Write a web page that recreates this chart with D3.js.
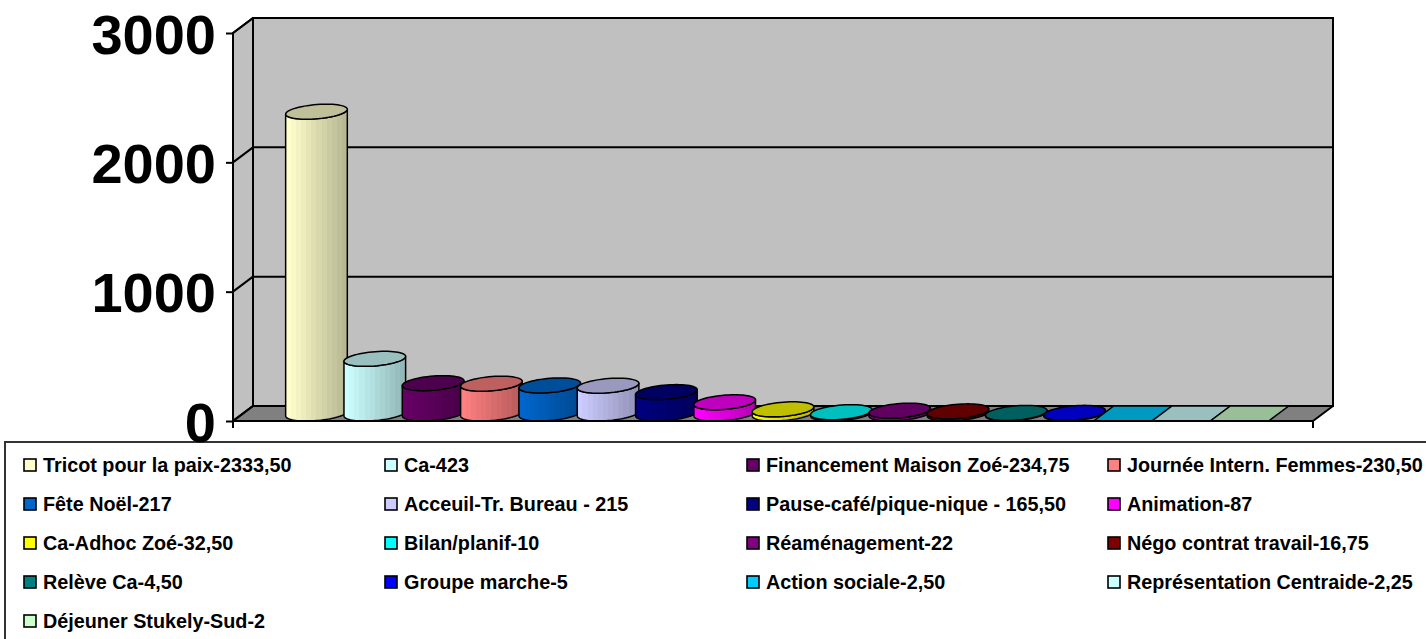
<!DOCTYPE html>
<html><head><meta charset="utf-8">
<script src="https://cdn.jsdelivr.net/npm/d3@7"></script>
<style>html,body{margin:0;padding:0;background:#fff;overflow:hidden}</style>
</head><body>
<svg id="chart" width="1426" height="639"></svg>
<script>
// ---- data ----
const labels = [
  "Tricot pour la paix-2333,50",
  "Ca-423",
  "Financement Maison Zoé-234,75",
  "Journée Intern. Femmes-230,50",
  "Fête Noël-217",
  "Acceuil-Tr. Bureau - 215",
  "Pause-café/pique-nique - 165,50",
  "Animation-87",
  "Ca-Adhoc Zoé-32,50",
  "Bilan/planif-10",
  "Réaménagement-22",
  "Négo contrat travail-16,75",
  "Relève Ca-4,50",
  "Groupe marche-5",
  "Action sociale-2,50",
  "Représentation Centraide-2,25",
  "Déjeuner Stukely-Sud-2"
];
const values = [2333.5, 423, 234.75, 230.5, 217, 215, 165.5, 87, 32.5, 10, 22, 16.75, 4.5, 5, 2.5, 2.25, 2];
const colors = ["#FFFFCC","#CCFFFF","#660066","#FF8080","#0066CC","#CCCCFF","#000080","#FF00FF",
                "#FFFF00","#00FFFF","#800080","#800000","#008080","#0000FF","#00CCFF","#CCFFFF","#CCFFCC"];
const yTicks = [0, 1000, 2000, 3000];

// ---- layout ----
const svg = d3.select("#chart");
const X0 = 233, X1 = 1313, DX = 20, DY = 15;
const y = d3.scaleLinear().domain([0, 3000]).range([421, 33]);
const x = d3.scaleBand().domain(labels).range([X0, X1]).paddingInner(0).paddingOuter(0.76);
const bw = x.bandwidth(), r = bw / 2;
const y0 = y(0);
const shade = (c, f) => { const q = d3.rgb(c); return d3.rgb(q.r * f, q.g * f, q.b * f).formatHex(); };

// ---- legend box (under axis labels) ----
svg.append("rect").attr("x", 5).attr("y", 442).attr("width", 1500).attr("height", 400)
  .attr("fill", "#fff").attr("stroke", "#333").attr("stroke-width", 2);

// ---- walls ----
const wall = svg.append("g");
wall.append("rect").attr("x", X0 + DX).attr("y", y(3000) - DY)
  .attr("width", X1 - X0).attr("height", y(0) - y(3000))
  .attr("fill", "#C0C0C0").attr("stroke", "#000").attr("stroke-width", 2);
wall.append("polygon")
  .attr("points", [[X0, y0], [X0, y(3000)], [X0 + DX, y(3000) - DY], [X0 + DX, y0 - DY]].join(" "))
  .attr("fill", "#C0C0C0").attr("stroke", "#000").attr("stroke-width", 2).attr("stroke-linejoin", "round");
wall.append("polygon")
  .attr("points", [[X0, y0], [X1, y0], [X1 + DX, y0 - DY], [X0 + DX, y0 - DY]].join(" "))
  .attr("fill", "#808080").attr("stroke", "#000").attr("stroke-width", 2).attr("stroke-linejoin", "round");
yTicks.forEach(v => {
  const yy = y(v);
  wall.append("line").attr("x1", X0).attr("y1", yy).attr("x2", X0 + DX).attr("y2", yy - DY)
    .attr("stroke", "#000").attr("stroke-width", 2);
  if (v > 0 && v < 3000)
    wall.append("line").attr("x1", X0 + DX).attr("y1", yy - DY).attr("x2", X1 + DX).attr("y2", yy - DY)
      .attr("stroke", "#000").attr("stroke-width", 2);
});

// ---- bars (cylinders) ----
const defs = svg.append("defs");
const hx = DX / 2, hy = DY / 2;
const tR = Math.atan2(hx, r), tL = tR + Math.PI;
const ext = Math.sqrt(r * r + hx * hx);
function E(cx, cy, t) { return [cx + r * Math.cos(t) + hx * Math.sin(t), cy - hy * Math.sin(t)]; }
function arc(cx, cy, a, b, n) { return d3.range(n + 1).map(i => E(cx, cy, a + (b - a) * i / n)); }
const line = d3.line();
const bars = svg.append("g");
labels.forEach((lab, i) => {
  const v = values[i], c = colors[i];
  const xs = x(lab);
  if (v < 3) {
    bars.append("polygon")
      .attr("points", [[xs, y0], [xs + bw, y0], [xs + bw + DX, y0 - DY], [xs + DX, y0 - DY]].join(" "))
      .attr("fill", shade(c, 0.75)).attr("stroke", "#000").attr("stroke-width", 1.5);
    return;
  }
  const cx = xs + r + hx, cyT = y(v) - hy, cyB = y0 - hy;
  const g = defs.append("linearGradient").attr("id", "g" + i).attr("gradientUnits", "userSpaceOnUse")
    .attr("x1", cx - ext).attr("x2", cx + ext).attr("y1", 0).attr("y2", 0);
  const n = 12;
  for (let k = 0; k < n; k++) {
    const f = 1 - 0.28 * k / (n - 1);
    g.append("stop").attr("offset", k / n).attr("stop-color", shade(c, f));
    g.append("stop").attr("offset", (k + 1) / n).attr("stop-color", shade(c, f));
  }
  const body = arc(cx, cyB, tL, tR + 2 * Math.PI, 40).concat(arc(cx, cyT, tR + 2 * Math.PI, tL, 40));
  bars.append("path").attr("d", line(body) + "Z").attr("fill", `url(#g${i})`)
    .attr("stroke", "#000").attr("stroke-width", 1.5).attr("stroke-linejoin", "round");
  bars.append("path").attr("d", line(arc(cx, cyT, 0, 2 * Math.PI, 60)) + "Z")
    .attr("fill", shade(c, 0.75)).attr("stroke", "#000").attr("stroke-width", 1.5);
});

// ---- axes ----
svg.append("line").attr("x1", X0).attr("y1", y(3000)).attr("x2", X0).attr("y2", y0 + 7)
  .attr("stroke", "#000").attr("stroke-width", 2);
svg.append("line").attr("x1", X1).attr("y1", y0).attr("x2", X1).attr("y2", y0 + 7)
  .attr("stroke", "#000").attr("stroke-width", 2);
svg.append("line").attr("x1", X0).attr("y1", y0).attr("x2", X1).attr("y2", y0)
  .attr("stroke", "#000").attr("stroke-width", 2);
const yAxis = d3.axisLeft(y).tickValues(yTicks).tickSize(7).tickSizeOuter(0).tickPadding(10).tickFormat(d3.format("d"));
const ag = svg.append("g").attr("transform", `translate(${X0},0)`).call(yAxis);
ag.select(".domain").remove();
ag.selectAll(".tick line").attr("stroke", "#000").attr("stroke-width", 2);
ag.selectAll(".tick text").attr("font-family", "'Liberation Sans', Arial, sans-serif")
  .attr("font-weight", "bold").attr("font-size", 56).attr("fill", "#000").attr("dy", "0.36em");

// ---- legend ----
const colX = [24, 385, 747, 1108], rowY0 = 465, rowStep = 39;
const lg = svg.append("g");
labels.forEach((lab, i) => {
  const cx = colX[i % 4], cy = rowY0 + Math.floor(i / 4) * rowStep;
  lg.append("rect").attr("x", cx).attr("y", cy - 6).attr("width", 12).attr("height", 12)
    .attr("fill", colors[i]).attr("stroke", "#000").attr("stroke-width", 1.6);
  lg.append("text").attr("x", cx + 19).attr("y", cy + 7)
    .attr("font-family", "'Liberation Sans', Arial, sans-serif").attr("font-weight", "bold")
    .attr("font-size", 19.8).attr("fill", "#000").text(lab);
});
</script>
</body></html>
